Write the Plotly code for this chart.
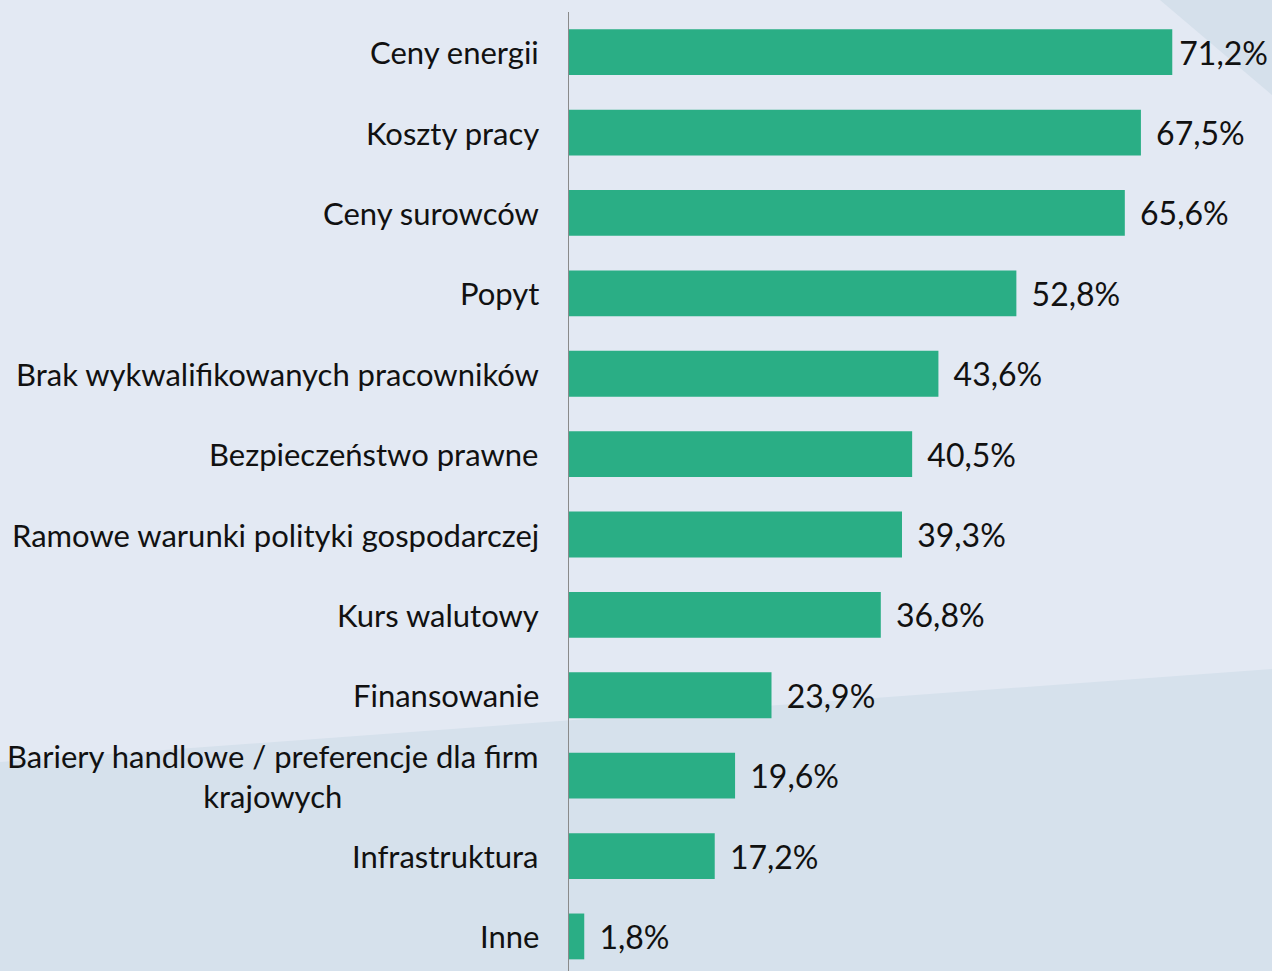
import plotly.graph_objects as go

categories = [
    "Ceny energii",
    "Koszty pracy",
    "Ceny surowców",
    "Popyt",
    "Brak wykwalifikowanych pracowników",
    "Bezpieczeństwo prawne",
    "Ramowe warunki polityki gospodarczej",
    "Kurs walutowy",
    "Finansowanie",
    "Bariery handlowe / preferencje dla firm<br>krajowych",
    "Infrastruktura",
    "Inne",
]
values = [71.2, 67.5, 65.6, 52.8, 43.6, 40.5, 39.3, 36.8, 23.9, 19.6, 17.2, 1.8]

FONT = "Lato"
W, H = 1272, 971
L, T = 569, 12

def px(x):
    return (x - L) / (W - L)

def py(y):
    return (H - y) / (H - T)

# the longest bar's label sits closer to the bar (it is pushed by the chart edge)
templates = ["\u2009%{x:.1f}%"] + [" \u2009%{x:.1f}%"] * (len(values) - 1)

fig = go.Figure()
fig.add_trace(go.Bar(
    y=list(range(len(categories))),
    x=values,
    orientation="h",
    marker=dict(color="#2aae85", line=dict(width=0)),
    width=0.57,
    texttemplate=templates,
    textposition="outside",
    cliponaxis=False,
    textfont=dict(family=FONT, size=32, color="#111111"),
    hoverinfo="skip",
))

annotations = []
for i, c in enumerate(categories):
    annotations.append(dict(
        x=0, y=i, xref="x", yref="y", text=c, showarrow=False,
        xanchor="right", yanchor="middle", align="center", xshift=-28,
        font=dict(family=FONT, size=31, color="#111111"),
    ))

shapes = [
    dict(type="path", xref="paper", yref="paper", layer="below",
         path=f"M {px(0)} {py(762)} L {px(1272)} {py(669)} L {px(1272)} {py(971)} L {px(0)} {py(971)} Z",
         fillcolor="#d6e1ec", line=dict(width=0)),
    dict(type="path", xref="paper", yref="paper", layer="below",
         path=f"M {px(1160)} {py(0)} L {px(1272)} {py(0)} L {px(1272)} {py(95)} Z",
         fillcolor="#d5e0eb", line=dict(width=0)),
]

fig.update_layout(
    width=W, height=H,
    margin=dict(l=L, r=0, t=T, b=0),
    paper_bgcolor="#e3e9f3",
    plot_bgcolor="rgba(0,0,0,0)",
    separators=", ",
    showlegend=False,
    annotations=annotations,
    shapes=shapes,
    xaxis=dict(range=[0, 82.97], visible=False, fixedrange=True),
    yaxis=dict(range=[11.43, -0.5], showticklabels=False, showgrid=False,
               zeroline=False, showline=True, linecolor="#8a8a8a", linewidth=1,
               ticks="", fixedrange=True),
)

fig.write_html(
    "out.html",
    config={"displayModeBar": False},
    post_script="document.body.style.margin='0';document.body.style.overflow='hidden';",
)
